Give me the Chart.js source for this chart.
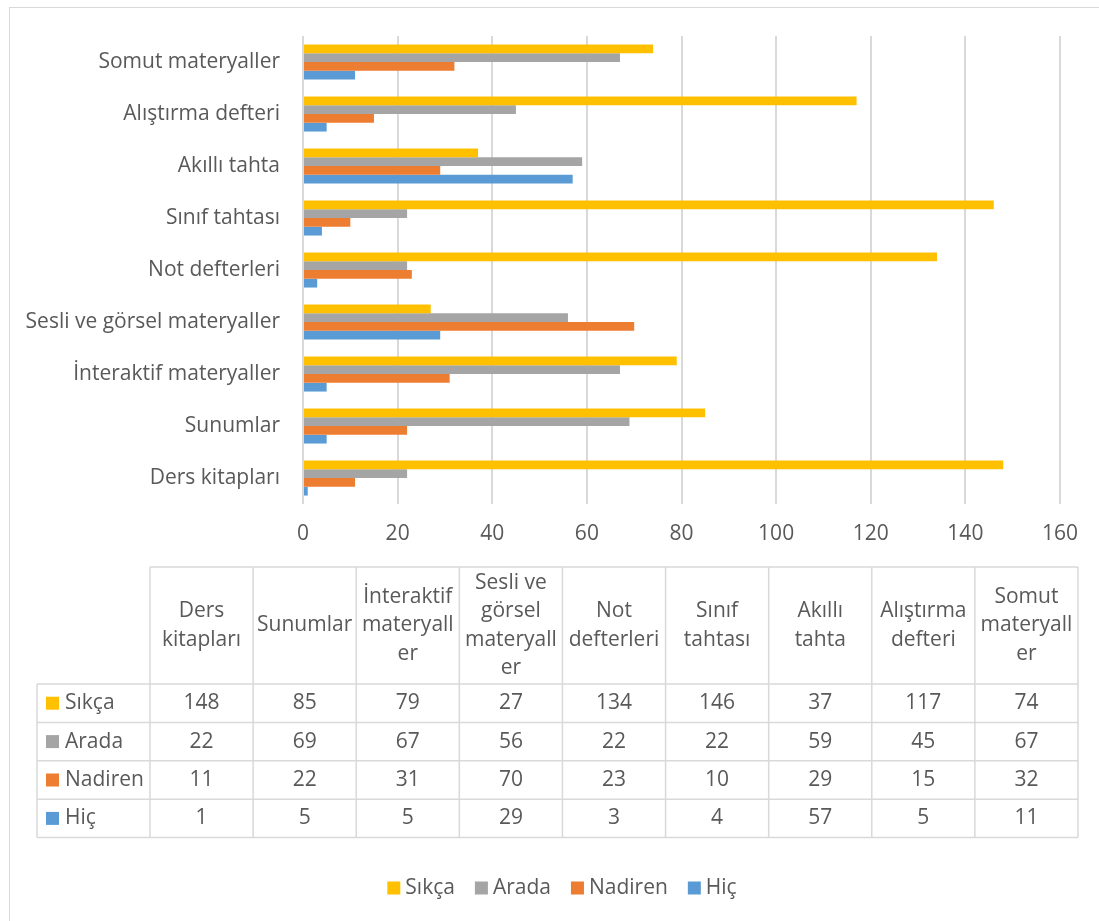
<!DOCTYPE html>
<html>
<head>
<meta charset="utf-8">
<script src="https://cdn.jsdelivr.net/npm/chart.js@4.4.1/dist/chart.umd.min.js"></script>
<style>
  html, body { margin: 0; padding: 0; background: #fff; }
  #wrap { width: 1099px; height: 921px; position: relative; }
</style>
</head>
<body>
<div id="wrap"><canvas id="c" width="1099" height="921"></canvas></div>
<script>
// Categories in table order (left to right); the chart lists them bottom-up.
const categories = ['Ders kitapları', 'Sunumlar', 'İnteraktif materyaller', 'Sesli ve görsel materyaller',
  'Not defterleri', 'Sınıf tahtası', 'Akıllı tahta', 'Alıştırma defteri', 'Somut materyaller'];
// Column headings as they wrap inside the data table.
const headerLines = [['Ders', 'kitapları'], ['Sunumlar'], ['İnteraktif', 'materyall', 'er'],
  ['Sesli ve', 'görsel', 'materyall', 'er'], ['Not', 'defterleri'], ['Sınıf', 'tahtası'],
  ['Akıllı', 'tahta'], ['Alıştırma', 'defteri'], ['Somut', 'materyall', 'er']];
const seriesNames = ['Sıkça', 'Arada', 'Nadiren', 'Hiç'];
const sikca   = [148, 85, 79, 27, 134, 146, 37, 117, 74];
const arada   = [22, 69, 67, 56, 22, 22, 59, 45, 67];
const nadiren = [11, 22, 31, 70, 23, 10, 29, 15, 32];
const hic     = [1, 5, 5, 29, 3, 4, 57, 5, 11];
const xTicks  = [0, 20, 40, 60, 80, 100, 120, 140, 160];

const seriesValues = [sikca, arada, nadiren, hic];
const seriesColors = ['#FFC000', '#A5A5A5', '#ED7D31', '#5B9BD5'];
const FONT = '"Open Sans", "Noto Sans", sans-serif';
const FSIZE = 21;
const TEXT = '#595959';
const LINE = '#D9D9D9';

const rev = a => a.slice().reverse();

// Data table + legend drawn beneath the bar chart.
const tablePlugin = {
  id: 'dataTable',
  afterDraw(chart) {
    const ctx = chart.ctx;
    ctx.save();
    // chart frame
    ctx.strokeStyle = LINE;
    ctx.lineWidth = 1;
    ctx.strokeRect(9.5, 7.5, 1300, 1300);

    const left = 37, labRight = 150, right = 1078;
    const colW = (right - labRight) / categories.length;
    const top = 567, headBottom = 684, rowH = 38.4;
    const rows = seriesNames.length;
    const bottom = headBottom + rows * rowH;

    ctx.strokeStyle = LINE;
    ctx.lineWidth = 1.5;
    ctx.beginPath();
    ctx.moveTo(labRight, top); ctx.lineTo(right, top);
    for (let r = 0; r <= rows; r++) {
      const y = headBottom + r * rowH;
      ctx.moveTo(left, y); ctx.lineTo(right, y);
    }
    ctx.moveTo(left, headBottom); ctx.lineTo(left, bottom);
    for (let c = 0; c <= categories.length; c++) {
      const x = labRight + c * colW;
      ctx.moveTo(x, top); ctx.lineTo(x, bottom);
    }
    ctx.stroke();

    ctx.fillStyle = TEXT;
    ctx.font = FSIZE + 'px ' + FONT;
    ctx.textBaseline = 'middle';
    ctx.textAlign = 'center';
    const lh = 28.5;
    headerLines.forEach((lines, c) => {
      const cx = labRight + (c + 0.5) * colW;
      const cy = (top + headBottom) / 2;
      const y0 = cy - (lines.length - 1) * lh / 2;
      lines.forEach((t, i) => ctx.fillText(t, cx, y0 + i * lh));
    });
    seriesValues.forEach((vals, r) => {
      const cy = headBottom + (r + 0.5) * rowH;
      vals.forEach((v, c) => {
        ctx.fillText(String(v), labRight + (c + 0.5) * colW, cy);
      });
    });
    ctx.textAlign = 'left';
    seriesNames.forEach((name, r) => {
      const cy = headBottom + (r + 0.5) * rowH;
      ctx.fillStyle = seriesColors[r];
      ctx.fillRect(46, cy - 6.5, 13, 13);
      ctx.fillStyle = TEXT;
      ctx.fillText(name, 65, cy);
    });

    // legend
    const box = 13, gap = 5, spacing = 20;
    const widths = seriesNames.map(n => box + gap + ctx.measureText(n).width);
    const total = widths.reduce((a, b) => a + b, 0) + spacing * (seriesNames.length - 1);
    let x = 562 - total / 2;
    const ly = 888;
    seriesNames.forEach((name, i) => {
      ctx.fillStyle = seriesColors[i];
      ctx.fillRect(x, ly - 6.5, box, box);
      ctx.fillStyle = TEXT;
      ctx.fillText(name, x + box + gap, ly);
      x += widths[i] + spacing;
    });
    ctx.restore();
  }
};

new Chart(document.getElementById('c'), {
  type: 'bar',
  data: {
    labels: rev(categories),
    datasets: seriesNames.map((name, i) => ({
      label: name,
      data: rev(seriesValues[i]),
      backgroundColor: seriesColors[i],
      borderWidth: 0,
      categoryPercentage: 0.675,
      barPercentage: 1.0
    }))
  },
  options: {
    indexAxis: 'y',
    responsive: false,
    animation: false,
    devicePixelRatio: 1,
    layout: { padding: { top: 36, right: 39, bottom: 367, left: 0 } },
    plugins: { legend: { display: false }, tooltip: { enabled: false } },
    scales: {
      x: {
        min: xTicks[0],
        max: xTicks[xTicks.length - 1],
        afterBuildTicks: s => { s.ticks = xTicks.map(v => ({ value: v })); },
        afterFit: s => { s.height = 50; },
        grid: { color: LINE, lineWidth: 2, drawTicks: false },
        border: { display: false },
        ticks: { color: TEXT, font: { family: FONT, size: FSIZE }, padding: 17 }
      },
      y: {
        afterFit: s => { s.width = 303; },
        grid: { display: false, drawTicks: false },
        border: { display: false },
        ticks: { color: TEXT, font: { family: FONT, size: FSIZE }, padding: 23 }
      }
    }
  },
  plugins: [tablePlugin]
});
</script>
</body>
</html>
